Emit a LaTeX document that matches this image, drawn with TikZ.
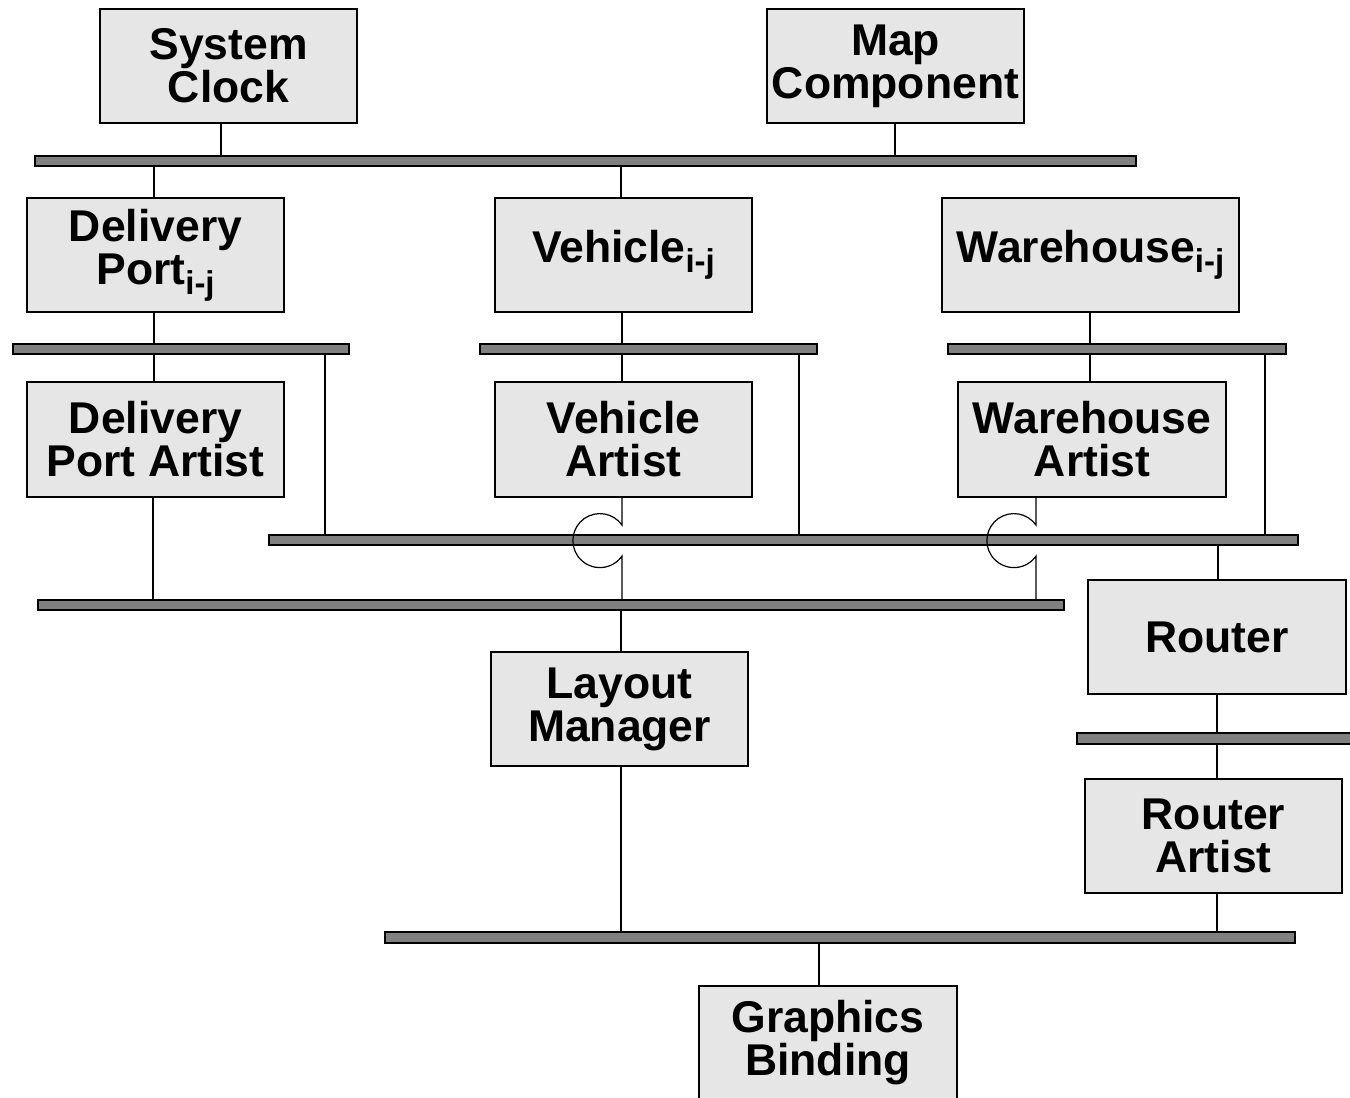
\documentclass[tikz,border=0pt]{standalone}
\usepackage{fontspec}
\setmainfont{Liberation Sans}
\definecolor{boxgray}{RGB}{230,230,230}
\definecolor{bargray}{RGB}{128,128,128}
\newcommand{\subij}{{\fontsize{33}{33}\selectfont\raisebox{-10pt}{i-j}}}
\tikzset{
  box/.style={draw=black, fill=boxgray, line width=1.2pt, minimum width=257pt, minimum height=114pt,
    inner sep=0pt, align=center, font=\fontsize{44.5}{43}\selectfont\bfseries},
  bar/.style={draw=black, fill=bargray, line width=1.2pt, minimum height=10pt, inner sep=0pt},
  link/.style={draw=black, line width=1.2pt},
}
\begin{document}
\begin{tikzpicture}[x=1pt,y=-1pt]
\useasboundingbox (0,0) rectangle (1350,1098);
% boxes
\node[box] (sc) at (228.5,66) {System\\Clock};
\node[box] (mc) at (895.5,66) {Map\\Component};
\node[box] (dp) at (155.5,255) {Delivery\\Port\subij};
\node[box] (veh) at (623.5,255) {Vehicle\subij};
\node[box, minimum width=297pt] (wh) at (1090.5,255) {Warehouse\subij};
\node[box, minimum height=115pt] (dpa) at (155.5,439.5) {Delivery\\Port Artist};
\node[box, minimum height=115pt] (va) at (623.5,439.5) {Vehicle\\Artist};
\node[box, minimum width=268pt, minimum height=115pt] (wa) at (1092,439.5) {Warehouse\\Artist};
\node[box, minimum width=258pt] (rt) at (1217,637) {Router};
\node[box] (ra) at (1213.5,836) {Router\\Artist};
\node[box] (lm) at (619.5,709) {Layout\\Manager};
\node[box, minimum width=258pt] (gb) at (828,1043) {Graphics\\Binding};
% bars
\node[bar, minimum width=1101pt] (b1) at (585.5,161) {};
\node[bar, minimum width=336pt] (b2a) at (181,349) {};
\node[bar, minimum width=337pt] (b2b) at (648.5,349) {};
\node[bar, minimum width=338pt] (b2c) at (1117,349) {};
\node[bar, minimum width=1029pt] (bm) at (783.5,540) {};
\node[bar, minimum width=1026pt] (bl) at (551,605) {};
\node[bar, minimum width=285pt, minimum height=11pt] (br) at (1219.5,738.5) {};
\node[bar, minimum width=910pt, minimum height=11pt] (bb) at (840,937.5) {};
% connectors
\draw[link] ([xshift=-7.5pt]sc.south) -- ([xshift=-7.5pt]sc.south |- b1.north);
\draw[link] ([xshift=-0.5pt]mc.south) -- ([xshift=-0.5pt]mc.south |- b1.north);
\draw[link] ([xshift=-1.5pt]dp.north) -- ([xshift=-1.5pt]dp.north |- b1.south);
\draw[link] ([xshift=-2.5pt]veh.north) -- ([xshift=-2.5pt]veh.north |- b1.south);
\draw[link] ([xshift=-1.5pt]dp.south) -- ([xshift=-1.5pt]dp.south |- b2a.north);
\draw[link] ([xshift=-1.5pt]dpa.north) -- ([xshift=-1.5pt]dpa.north |- b2a.south);
\draw[link] ([xshift=144pt]b2a.south) -- ([xshift=144pt]b2a.south |- bm.north);
\draw[link] ([xshift=-1.5pt]veh.south) -- ([xshift=-1.5pt]veh.south |- b2b.north);
\draw[link] ([xshift=-1.5pt]va.north) -- ([xshift=-1.5pt]va.north |- b2b.south);
\draw[link] ([xshift=150.5pt]b2b.south) -- ([xshift=150.5pt]b2b.south |- bm.north);
\draw[link] ([xshift=-0.5pt]wh.south) -- ([xshift=-0.5pt]wh.south |- b2c.north);
\draw[link] ([xshift=-2pt]wa.north) -- ([xshift=-2pt]wa.north |- b2c.south);
\draw[link] ([xshift=148pt]b2c.south) -- ([xshift=148pt]b2c.south |- bm.north);
\draw[link] ([xshift=-2.5pt]dpa.south) -- ([xshift=-2.5pt]dpa.south |- bl.north);
% hops over the middle bar
\draw[link] ([xshift=-1.5pt]va.south) -- ++(0,27.5)
  arc[start angle=35, end angle=325, radius=27pt]
  -- ([xshift=-1.5pt]va.south |- bl.north);
\draw[link] ([xshift=-56pt]wa.south) -- ++(0,27.5)
  arc[start angle=35, end angle=325, radius=27pt]
  -- ([xshift=-56pt]wa.south |- bl.north);
\draw[link] ([xshift=1.5pt]lm.north) -- ([xshift=1.5pt]lm.north |- bl.south);
\draw[link] ([xshift=1pt]rt.north) -- ([xshift=1pt]rt.north |- bm.south);
\draw[link] (rt.south) -- (rt.south |- br.north);
\draw[link] ([xshift=3.5pt]ra.north) -- ([xshift=3.5pt]ra.north |- br.south);
\draw[link] ([xshift=3.5pt]ra.south) -- ([xshift=3.5pt]ra.south |- bb.north);
\draw[link] ([xshift=1.5pt]lm.south) -- ([xshift=1.5pt]lm.south |- bb.north);
\draw[link] ([xshift=-9pt]gb.north) -- ([xshift=-9pt]gb.north |- bb.south);
\end{tikzpicture}
\end{document}
